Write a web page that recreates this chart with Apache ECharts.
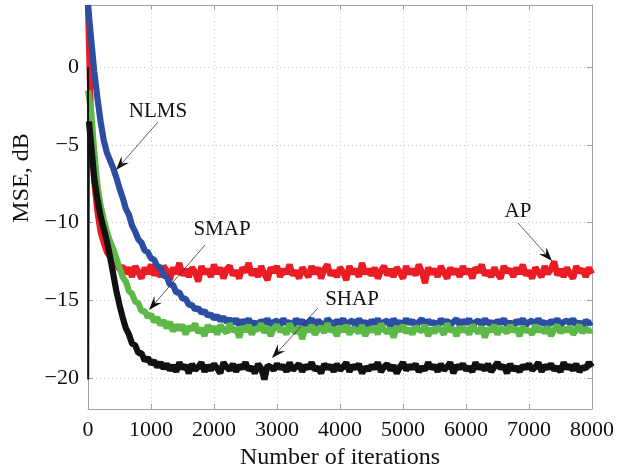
<!DOCTYPE html>
<html>
<head>
<meta charset="utf-8">
<script src="https://cdn.jsdelivr.net/npm/echarts@6/dist/echarts.min.js"></script>
<style>
  html, body { margin: 0; padding: 0; background: #fff; }
  #chart { width: 619px; height: 473px; }
</style>
</head>
<body>
<div id="chart"></div>
<script>
// iterations, step 50 (0 .. 8000)
var iters = [];
for (var k = 0; k <= 160; k++) iters.push(k * 50);

// MSE curves (dB)
var ap = [
  4.0, -4.0, -7.4, -9.3, -10.6, -11.3, -11.9, -12.2, -12.6, -12.7,
  -13.0, -12.8, -13.3, -12.9, -13.5, -12.8, -13.2, -13.6, -12.9, -13.3,
  -12.7, -13.4, -13.0, -13.5, -12.8, -13.1, -13.7, -12.9, -13.3, -12.6,
  -13.4, -13.0, -13.5, -12.9, -13.2, -13.8, -12.8, -13.3, -13.0, -13.5,
  -12.7, -13.3, -12.9, -13.6, -13.0, -12.8, -13.4, -13.1, -13.6, -12.9,
  -13.2, -12.6, -13.4, -13.0, -13.5, -12.8, -13.3, -13.7, -12.9, -13.2,
  -12.8, -13.5, -13.0, -13.3, -12.7, -13.4, -13.1, -13.6, -12.9, -13.2,
  -13.5, -12.8, -13.3, -12.9, -13.6, -13.0, -12.7, -13.4, -13.1, -13.5,
  -12.9, -13.2, -13.7, -12.8, -13.3, -13.0, -13.5, -12.6, -13.3, -13.0,
  -13.4, -12.9, -13.6, -13.1, -12.8, -13.4, -13.0, -13.5, -12.9, -13.2,
  -13.6, -12.8, -13.3, -13.0, -13.4, -12.7, -13.2, -13.9, -12.9, -13.3,
  -13.0, -13.5, -12.8, -13.2, -13.6, -12.9, -13.3, -13.0, -13.5, -12.8,
  -13.3, -13.0, -13.6, -12.9, -13.2, -12.7, -13.4, -13.1, -13.5, -12.9,
  -13.3, -13.6, -12.8, -13.2, -13.0, -13.5, -12.9, -13.3, -12.7, -13.4,
  -13.1, -13.6, -12.9, -13.2, -13.5, -12.8, -13.3, -13.0, -12.5, -13.4,
  -13.0, -13.5, -12.9, -13.3, -13.6, -12.8, -13.2, -13.0, -13.5, -12.9, -13.3
];
var nlms = [
  4.0, 1.8, -0.3, -2.0, -3.5, -4.7, -5.5, -6.0, -6.5, -7.1,
  -7.8, -8.4, -9.1, -9.5, -10.2, -10.6, -11.1, -11.3, -11.8, -11.9,
  -12.3, -12.4, -12.8, -12.9, -13.4, -13.5, -14.0, -14.0, -14.5, -14.5,
  -14.9, -14.9, -15.3, -15.3, -15.6, -15.5, -15.8, -15.7, -16.0, -15.9,
  -16.2, -16.0, -16.3, -16.1, -16.4, -16.2, -16.5, -16.2, -16.6, -16.3,
  -16.5, -16.2, -16.6, -16.4, -16.7, -16.3, -16.5, -16.2, -16.6, -16.4,
  -16.3, -16.6, -16.2, -16.5, -16.4, -16.7, -16.2, -16.5, -16.3, -16.6,
  -16.4, -16.2, -16.6, -16.3, -16.5, -16.7, -16.2, -16.4, -16.6, -16.3,
  -16.5, -16.2, -16.6, -16.4, -16.3, -16.7, -16.2, -16.5, -16.4, -16.6,
  -16.3, -16.5, -16.2, -16.6, -16.4, -16.3, -16.7, -16.2, -16.5, -16.4,
  -16.6, -16.2, -16.5, -16.3, -16.7, -16.4, -16.2, -16.6, -16.3, -16.5,
  -16.4, -16.7, -16.2, -16.5, -16.3, -16.6, -16.4, -16.2, -16.6, -16.3,
  -16.5, -16.2, -16.7, -16.4, -16.3, -16.6, -16.2, -16.5, -16.4, -16.6,
  -16.3, -16.5, -16.2, -16.6, -16.4, -16.7, -16.3, -16.5, -16.2, -16.6,
  -16.4, -16.3, -16.6, -16.2, -16.5, -16.4, -16.7, -16.3, -16.5, -16.2,
  -16.6, -16.4, -16.3, -16.5, -16.2, -16.6, -16.4, -16.7, -16.3, -16.5, -16.4
];
var smap = [
  -1.5, -2.8, -5.5, -7.6, -8.9, -9.8, -10.6, -11.2, -11.7, -12.3,
  -12.9, -13.5, -13.8, -14.4, -14.6, -15.1, -15.2, -15.7, -15.7, -16.1,
  -15.9, -16.4, -16.1, -16.6, -16.3, -16.8, -16.4, -17.0, -16.6, -16.9,
  -16.6, -17.2, -16.7, -16.9, -16.5, -17.1, -16.8, -17.3, -16.6, -17.0,
  -16.7, -17.2, -16.6, -16.9, -17.1, -16.5, -17.0, -16.8, -17.4, -16.7,
  -17.0, -16.6, -17.2, -16.8, -16.9, -16.5, -17.1, -16.7, -17.3, -16.8,
  -16.6, -17.0, -16.8, -17.2, -16.5, -16.9, -17.1, -16.7, -17.5, -16.8,
  -17.0, -16.6, -17.2, -16.9, -16.7, -17.1, -16.5, -17.0, -16.8, -17.3,
  -16.7, -17.0, -16.6, -17.2, -16.8, -16.9, -17.1, -16.6, -17.3, -16.8,
  -17.0, -16.7, -17.2, -16.5, -16.9, -17.1, -16.8, -17.4, -16.7, -17.0,
  -16.6, -17.1, -16.8, -17.2, -16.7, -16.9, -17.0, -16.6, -17.3, -16.8,
  -17.1, -16.7, -16.9, -17.2, -16.5, -17.0, -16.8, -17.3, -16.7, -17.0,
  -16.8, -17.2, -16.6, -16.9, -17.1, -16.7, -17.4, -16.8, -17.0, -16.6,
  -17.2, -16.8, -16.9, -17.1, -16.6, -17.0, -16.8, -17.3, -16.7, -17.0,
  -16.9, -17.2, -16.6, -17.0, -16.8, -17.1, -16.7, -17.3, -16.9, -16.6,
  -17.1, -16.8, -17.0, -16.7, -17.2, -16.9, -16.6, -17.1, -16.8, -17.0, -16.9
];
var shap = [
  0.0, -5.0, -7.2, -8.5, -9.6, -10.4, -11.2, -12.2, -13.3, -14.4,
  -15.3, -16.1, -16.8, -17.2, -17.8, -17.9, -18.4, -18.4, -18.9, -18.7,
  -19.1, -18.9, -19.3, -19.0, -19.4, -19.1, -19.5, -19.2, -19.6, -19.0,
  -19.4, -19.2, -19.7, -19.1, -19.5, -19.3, -19.0, -19.6, -19.2, -19.5,
  -19.1, -19.4, -19.7, -19.0, -19.3, -19.5, -19.1, -19.6, -19.2, -19.4,
  -19.0, -19.5, -19.3, -19.7, -19.1, -19.4, -20.1, -19.2, -19.3, -19.5,
  -19.1, -19.4, -19.2, -19.6, -19.0, -19.5, -19.3, -19.1, -19.6, -19.2,
  -19.4, -19.0, -19.5, -19.3, -19.7, -19.1, -19.4, -19.2, -19.6, -19.1,
  -19.5, -19.3, -19.0, -19.6, -19.2, -19.4, -19.1, -19.7, -19.3, -19.5,
  -19.2, -19.4, -19.0, -19.6, -19.3, -19.1, -19.5, -19.2, -19.7, -19.3,
  -19.0, -19.5, -19.2, -19.4, -19.1, -19.6, -19.3, -19.5, -19.0, -19.4,
  -19.2, -19.6, -19.1, -19.5, -19.3, -19.0, -19.7, -19.2, -19.4, -19.1,
  -19.5, -19.3, -19.6, -19.0, -19.4, -19.2, -19.5, -19.1, -19.6, -19.3,
  -19.0, -19.4, -19.2, -19.7, -19.1, -19.5, -19.3, -19.6, -19.2, -19.4,
  -19.1, -19.5, -19.3, -19.0, -19.6, -19.2, -19.4, -19.1, -19.5, -19.3,
  -19.6, -19.0, -19.4, -19.2, -19.5, -19.1, -19.6, -19.3, -19.4, -19.0, -19.3
];
// first SHAP samples: a drop right at the start
var shapStart = [[0, 0], [3, -20.1], [15, -3.5]];

var yTicks = [-20, -15, -10, -5, 0];
var xTicks = [0, 1000, 2000, 3000, 4000, 5000, 6000, 7000, 8000];

var FONT = '"Liberation Serif", "DejaVu Serif", serif';
var frame = '#a0a0a0';

function pairs(vals) {
  return iters.map(function (x, i) { return [x, vals[i]]; });
}

// arrow from (sx,sy) to tip (tx,ty), in pixels
function arrow(sx, sy, tx, ty) {
  var dx = tx - sx, dy = ty - sy, L = Math.sqrt(dx * dx + dy * dy);
  var ux = dx / L, uy = dy / L, px = -uy, py = ux;
  var len = 14, w = 5, notch = 9;
  return [{
    type: 'line', silent: true, z: 100,
    shape: { x1: sx, y1: sy, x2: tx - ux * notch, y2: ty - uy * notch },
    style: { stroke: '#333', lineWidth: 0.8 }
  }, {
    type: 'polygon', silent: true, z: 100,
    shape: { points: [
      [tx, ty],
      [tx - ux * len + px * w, ty - uy * len + py * w],
      [tx - ux * notch, ty - uy * notch],
      [tx - ux * len - px * w, ty - uy * len - py * w]
    ] },
    style: { fill: '#111' }
  }];
}

function label(text, cx, cy) {
  return {
    type: 'text', silent: true, z: 100, x: cx, y: cy,
    style: { text: text, font: '21px ' + FONT, fill: '#111', align: 'center', verticalAlign: 'middle' }
  };
}

var graphics = [].concat(
  [label('NLMS', 158, 111)], arrow(158, 122, 116, 170),
  [label('SMAP', 222, 229)], arrow(205, 245, 149, 310),
  [label('SHAP', 352, 299)], arrow(318, 308, 272, 358),
  [label('AP', 518, 211)], arrow(518, 223, 552, 261),
  [{
    type: 'text', silent: true, x: 22, y: 178, rotation: Math.PI / 2,
    style: { text: 'MSE, dB', font: '24px ' + FONT, fill: '#111', align: 'center', verticalAlign: 'middle' }
  }, {
    type: 'text', silent: true, x: 340, y: 458,
    style: { text: 'Number of iterations', font: '24px ' + FONT, fill: '#111', align: 'center', verticalAlign: 'middle' }
  }]
);

var lineStyle = function (c, w) { return { color: c, width: w || 6.2, join: 'bevel' }; };

var chart = echarts.init(document.getElementById('chart'));
chart.setOption({
  animation: false,
  backgroundColor: '#fff',
  grid: { left: 88, right: 27, top: 5, bottom: 64 },
  xAxis: [{
    type: 'value', min: 0, max: 8000, interval: 1000,
    axisLine: { show: true, onZero: false, lineStyle: { color: frame, width: 1 } },
    axisTick: { show: true, inside: true, length: 5, lineStyle: { color: frame } },
    axisLabel: { color: '#111', fontFamily: FONT, fontSize: 22, margin: 10,
      customValues: xTicks, formatter: function (v) { return String(v); } },
    splitLine: { show: true, lineStyle: { color: '#c8c8c8', type: [1, 3], width: 1 } }
  }, {
    type: 'value', position: 'top', min: 0, max: 8000, interval: 1000,
    axisLine: { show: true, onZero: false, lineStyle: { color: frame, width: 1 } },
    axisTick: { show: true, inside: true, length: 5, lineStyle: { color: frame } },
    axisLabel: { show: false }, splitLine: { show: false }
  }],
  yAxis: [{
    type: 'value', min: -22, max: 4,
    axisLine: { show: true, onZero: false, lineStyle: { color: frame, width: 1 } },
    axisTick: { show: true, inside: true, length: 5, lineStyle: { color: frame }, customValues: yTicks },
    axisLabel: { color: '#111', fontFamily: FONT, fontSize: 22, margin: 9, customValues: yTicks,
      formatter: function (v) { return String(v).replace('-', '\u2212'); } },
    splitLine: { show: true, lineStyle: { color: '#c8c8c8', type: [1, 3], width: 1 } }
  }, {
    type: 'value', position: 'right', min: -22, max: 4,
    axisLine: { show: true, onZero: false, lineStyle: { color: frame, width: 1 } },
    axisTick: { show: true, inside: true, length: 5, lineStyle: { color: frame }, customValues: yTicks },
    axisLabel: { show: false }, splitLine: { show: false }
  }],
  series: [
    { name: 'AP', type: 'line', data: pairs(ap), showSymbol: false, lineStyle: lineStyle('#ec1c24'), z: 2 },
    { name: 'NLMS', type: 'line', data: pairs(nlms), showSymbol: false, lineStyle: lineStyle('#2b4ea2'), z: 3 },
    { name: 'SMAP', type: 'line', data: pairs(smap), showSymbol: false, lineStyle: lineStyle('#5cb947'), z: 4 },
    { name: 'SHAP', type: 'line', data: [shapStart[2]].concat(pairs(shap).slice(1)), showSymbol: false,
      lineStyle: lineStyle('#111111'), z: 5 },
    { name: 'SHAP start', type: 'line', data: shapStart, showSymbol: false,
      lineStyle: lineStyle('#111111', 2), z: 5 }
  ],
  graphic: graphics
});
</script>
</body>
</html>
